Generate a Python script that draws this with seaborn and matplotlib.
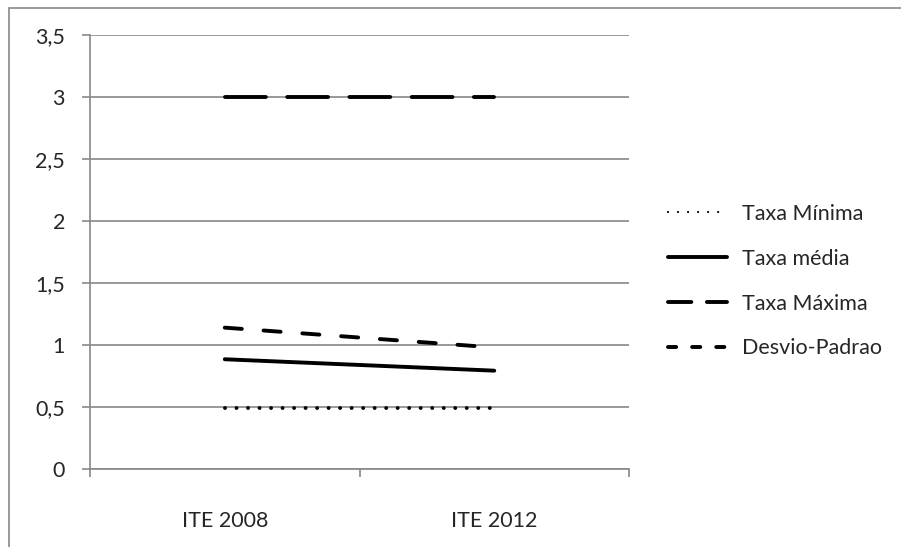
import pandas as pd
import matplotlib.pyplot as plt
import matplotlib.patches as mpatches
import seaborn as sns

sns.set_style('white')
plt.rcParams['font.family'] = ['Lato', 'DejaVu Sans']

categorias = ['ITE 2008', 'ITE 2012']
series = ['Taxa Mínima', 'Taxa média', 'Taxa Máxima', 'Desvio-Padrao']
taxa_minima = [0.49, 0.49]
taxa_media = [0.885, 0.793]
taxa_maxima = [3.0, 3.0]
desvio_padrao = [1.14, 0.98]
y_ticks = [0, 0.5, 1, 1.5, 2, 2.5, 3, 3.5]

GRAY = '#888888'
FS = 15.5

df = pd.DataFrame({
    'ITE': categorias * 4,
    'serie': [s for s in series for _ in categorias],
    'valor': taxa_minima + taxa_media + taxa_maxima + desvio_padrao,
})

# padroes de traco (em unidades da espessura da linha)
dashes = {
    'Taxa Mínima': (0.01, 2.95),
    'Taxa média': '',
    'Taxa Máxima': (10.5, 5.5),
    'Desvio-Padrao': (4.4, 5.6),
}
legend_dashes = {
    'Taxa Mínima': (0.01, 4.5),
    'Taxa Máxima': (6, 4),
    'Desvio-Padrao': (2.1, 4.1),
}

fig = plt.figure(figsize=(9.01, 5.47), dpi=100)
ax = fig.add_axes([90 / 901, 1 - 469 / 547, (629 - 90) / 901, (469 - 35) / 547])

sns.lineplot(data=df, x='ITE', y='valor', style='serie', style_order=series,
             dashes=dashes, color='black', linewidth=2.8, ax=ax,
             dash_capstyle='round', solid_capstyle='round', sort=False)

ax.set_xlim(-0.5, 1.5)
ax.set_ylim(0, 3.5)
ax.set_yticks(y_ticks, labels=[f'{v:g}'.replace('.', ',') for v in y_ticks])
ax.set_xticks([-0.5, 0.5, 1.5], labels=['', '', ''])
ax.set_xticks([0, 1], labels=categorias, minor=True)
ax.tick_params(axis='x', which='major', length=6, width=1.2, color=GRAY, direction='out', bottom=True)
ax.tick_params(axis='x', which='minor', length=0, pad=30, labelsize=FS)
ax.tick_params(axis='y', length=6, width=1.2, color=GRAY, direction='out', left=True, pad=12, labelsize=FS)
ax.set_xlabel('')
ax.set_ylabel('')

ax.yaxis.grid(True, color=GRAY, linewidth=1.2)
ax.set_axisbelow(True)
for s in ['top', 'right']:
    ax.spines[s].set_visible(False)
for s in ['left', 'bottom']:
    ax.spines[s].set_color(GRAY)
    ax.spines[s].set_linewidth(1.2)

handles, labels = ax.get_legend_handles_labels()
leg = ax.legend(handles, labels, loc='upper left', bbox_to_anchor=(668 / 901, 1 - 204 / 547),
                bbox_transform=fig.transFigure, frameon=False, fontsize=FS,
                handlelength=2.75, handletextpad=0.7, labelspacing=1.15,
                borderpad=0, borderaxespad=0)
for line, label in zip(leg.get_lines(), labels):
    if label in legend_dashes:
        if label == 'Taxa Mínima':
            line.set_linewidth(1.6)
        line.set_dashes(legend_dashes[label])
        line.set_dash_capstyle('round')

fig.patches.append(mpatches.Rectangle((9 / 901, -0.2), 1.2, 1.2 + (1 - 8 / 547) - 1.0,
                                      transform=fig.transFigure, fill=False,
                                      edgecolor=GRAY, linewidth=1.2))

fig.savefig('out.png', dpi=100)
plt.close(fig)
